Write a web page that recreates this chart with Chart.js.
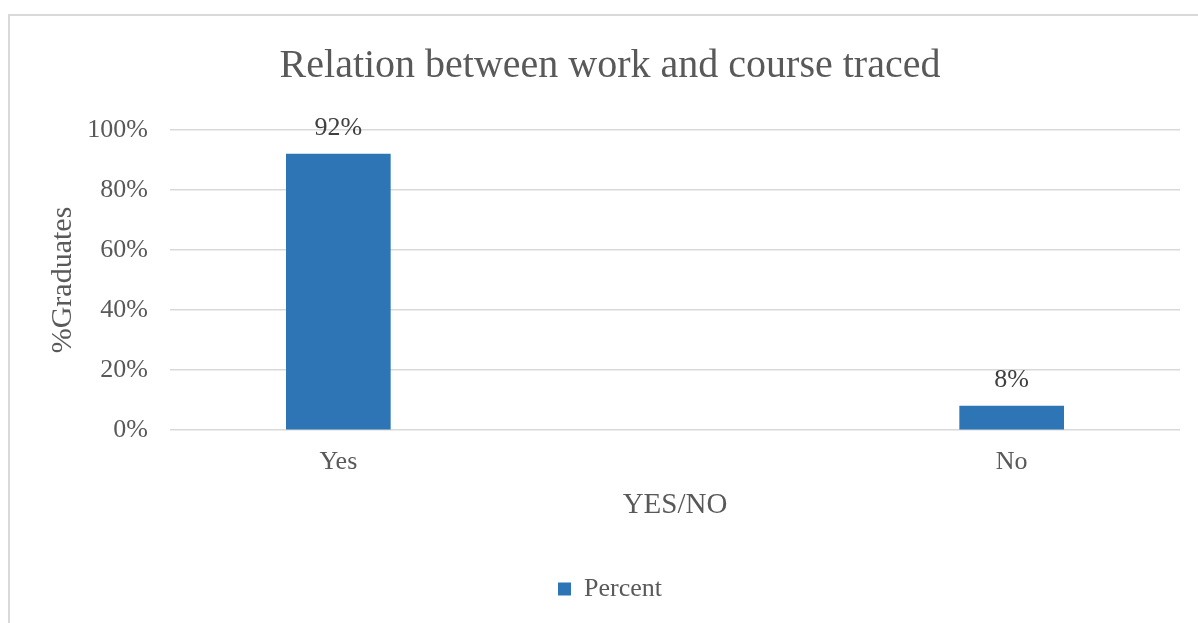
<!DOCTYPE html>
<html>
<head>
<meta charset="utf-8">
<title>Relation between work and course traced</title>
<script src="https://cdn.jsdelivr.net/npm/chart.js@4/dist/chart.umd.min.js"></script>
<style>
  html, body { margin: 0; padding: 0; background: #fff; overflow: hidden; }
  #frame {
    position: absolute; left: 8px; top: 14px;
    width: 1300px; height: 700px;
    border: 2px solid #d9d9d9;
  }
  #wrap { position: absolute; left: 0; top: 0; width: 1240px; height: 623px; }
</style>
</head>
<body>
<div id="frame"></div>
<div id="wrap"><canvas id="grafico" width="1240" height="623"></canvas></div>
<script>
const categorias = ['Yes', 'No'];
const porcentajes = [92, 8];
const marcasY = [0, 20, 40, 60, 80, 100];

const serif = "'Liberation Serif', 'Times New Roman', serif";
const gris = '#595959';

// etiquetas de valor encima de cada barra
const etiquetas = {
    id: 'etiquetas',
    afterDatasetsDraw(chart) {
        const ctx = chart.ctx;
        const meta = chart.getDatasetMeta(0);
        ctx.save();
        ctx.font = '26px ' + serif;
        ctx.fillStyle = '#404040';
        ctx.textAlign = 'center';
        ctx.textBaseline = 'alphabetic';
        meta.data.forEach((barra, i) => {
            ctx.fillText(porcentajes[i] + '%', barra.x, barra.y - 19);
        });
        ctx.restore();
    }
};

const ctx = document.getElementById('grafico').getContext('2d');
new Chart(ctx, {
    type: 'bar',
    data: {
        datasets: [{
            label: 'Percent',
            data: categorias.map((c, i) => ({ x: i, y: porcentajes[i] })),
            backgroundColor: '#2e75b6',
            borderWidth: 0,
            barThickness: 104
        }]
    },
    options: {
        responsive: false,
        animation: false,
        layout: { padding: { left: 40, right: 60, top: 0, bottom: 11 } },
        plugins: {
            tooltip: { enabled: false },
            title: {
                display: true,
                text: 'Relation between work and course traced',
                color: gris,
                font: { family: serif, size: 40, weight: 'normal' },
                padding: { top: 42, bottom: 40 }
            },
            legend: {
                position: 'bottom',
                labels: {
                    color: gris,
                    font: { family: serif, size: 26 },
                    boxWidth: 13,
                    boxHeight: 13,
                    padding: 53
                }
            }
        },
        scales: {
            x: {
                type: 'linear',
                offset: false,
                min: -0.25,
                max: 1.25,
                afterBuildTicks(scale) {
                    scale.ticks = categorias.map((c, i) => ({ value: i }));
                },
                afterFit(scale) { scale.height = 93; },
                ticks: {
                    callback: v => categorias[v],
                    color: gris,
                    font: { family: serif, size: 26 },
                    padding: 17,
                    maxRotation: 0
                },
                grid: { display: false, drawTicks: false, offset: false },
                border: { display: false },
                title: {
                    display: true,
                    text: 'YES/NO',
                    color: gris,
                    font: { family: serif, size: 29 },
                    padding: 0
                }
            },
            y: {
                min: 0,
                max: 100,
                afterBuildTicks(scale) {
                    scale.ticks = marcasY.map(v => ({ value: v }));
                },
                afterFit(scale) { scale.width = 130; },
                ticks: {
                    callback: v => v + '%',
                    color: gris,
                    font: { family: serif, size: 26 },
                    padding: 22
                },
                grid: { color: '#d9d9d9', lineWidth: 1.5, drawTicks: false },
                border: { display: false },
                title: {
                    display: true,
                    text: '%Graduates',
                    color: gris,
                    font: { family: serif, size: 30 },
                    padding: { top: 5, bottom: 0 }
                }
            }
        }
    },
    plugins: [etiquetas]
});
</script>
</body>
</html>
